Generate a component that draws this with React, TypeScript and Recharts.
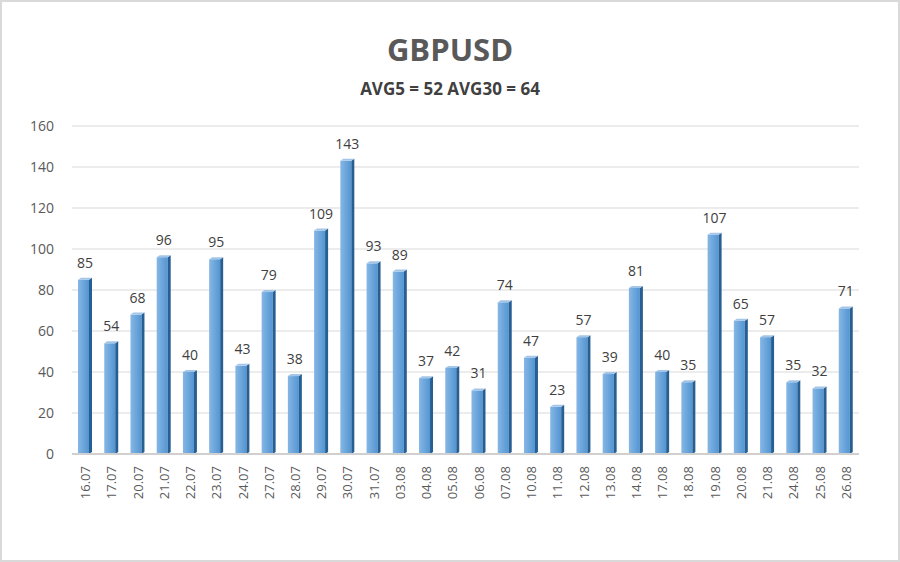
import { BarChart, Bar, XAxis, YAxis, CartesianGrid, LabelList } from "recharts";

const dates = [
  "16.07", "17.07", "20.07", "21.07", "22.07", "23.07", "24.07", "27.07", "28.07", "29.07",
  "30.07", "31.07", "03.08", "04.08", "05.08", "06.08", "07.08", "10.08", "11.08", "12.08",
  "13.08", "14.08", "17.08", "18.08", "19.08", "20.08", "21.08", "24.08", "25.08", "26.08",
];
const volatility = [
  85, 54, 68, 96, 40, 95, 43, 79, 38, 109,
  143, 93, 89, 37, 42, 31, 74, 47, 23, 57,
  39, 81, 40, 35, 107, 65, 57, 35, 32, 71,
];
const yTicks = [0, 20, 40, 60, 80, 100, 120, 140, 160];

const data = dates.map((d, i) => ({ date: d, value: volatility[i] }));

const FONT = "'Open Sans', 'Noto Sans', sans-serif";

// front face + dark right side + light top cap, like the Excel 3D column
function Column(props: any) {
  const { x, y, width, height } = props;
  if (height == null || height <= 0) return null;
  const side = 3;
  const front = width - side;
  return (
    <g>
      <rect x={x} y={y} width={front} height={height} fill="url(#front)" />
      <polygon
        points={`${x + front},${y} ${x + width},${y - 2} ${x + width},${y + height - 2} ${x + front},${y + height}`}
        fill="#285f93"
      />
      <polygon
        points={`${x},${y} ${x + side},${y - 2} ${x + width},${y - 2} ${x + front},${y}`}
        fill="#a3c6e8"
      />
    </g>
  );
}

function DateTick(props: any) {
  const { x, y, payload } = props;
  return (
    <text
      x={x}
      y={y}
      transform={`rotate(-90, ${x}, ${y})`}
      textAnchor="end"
      dominantBaseline="central"
      fontSize={13}
      fill="#595959"
      fontFamily={FONT}
    >
      {payload.value}
    </text>
  );
}

export default function App() {
  return (
    <div
      style={{
        position: "fixed",
        left: 0,
        top: 0,
        width: 900,
        height: 562,
        boxSizing: "border-box",
        border: "2px solid #d9d9d9",
        background: "#fff",
        fontFamily: FONT,
      }}
    >
      <div
        style={{
          position: "absolute",
          top: 26,
          left: 0,
          width: "100%",
          textAlign: "center",
          fontSize: 31,
          fontWeight: 700,
          color: "#595959",
        }}
      >
        GBPUSD
      </div>
      <div
        style={{
          position: "absolute",
          top: 75,
          left: 0,
          width: "100%",
          textAlign: "center",
          fontSize: 17,
          fontWeight: 700,
          color: "#404040",
        }}
      >
        AVG5 = 52 AVG30 = 64
      </div>
      <div style={{ position: "absolute", left: -2, top: -2 }}>
        <BarChart
          width={900}
          height={562}
          data={data}
          margin={{ top: 126, right: 41, bottom: 78, left: 12 }}
          barCategoryGap="0%"
        >
          <defs>
            <linearGradient id="front" x1="0" y1="0" x2="1" y2="0">
              <stop offset="0%" stopColor="#86b7e5" />
              <stop offset="100%" stopColor="#5395d2" />
            </linearGradient>
          </defs>
          <CartesianGrid vertical={false} stroke="#d9d9d9" strokeWidth={1} />
          <XAxis
            dataKey="date"
            interval={0}
            tickLine={false}
            axisLine={{ stroke: "#d0d0d0", strokeWidth: 2 }}
            tick={<DateTick />}
            tickMargin={6}
          />
          <YAxis
            domain={[0, 160]}
            ticks={yTicks}
            width={60}
            tickLine={false}
            axisLine={false}
            tickMargin={12}
            tick={{ fontSize: 14, fill: "#595959", fontFamily: FONT }}
          />
          <Bar
            dataKey="value"
            barSize={14}
            shape={<Column />}
            isAnimationActive={false}
          >
            <LabelList
              dataKey="value"
              position="top"
              offset={12}
              style={{ fontSize: 14, fill: "#404040", fontFamily: FONT }}
            />
          </Bar>
        </BarChart>
      </div>
    </div>
  );
}
